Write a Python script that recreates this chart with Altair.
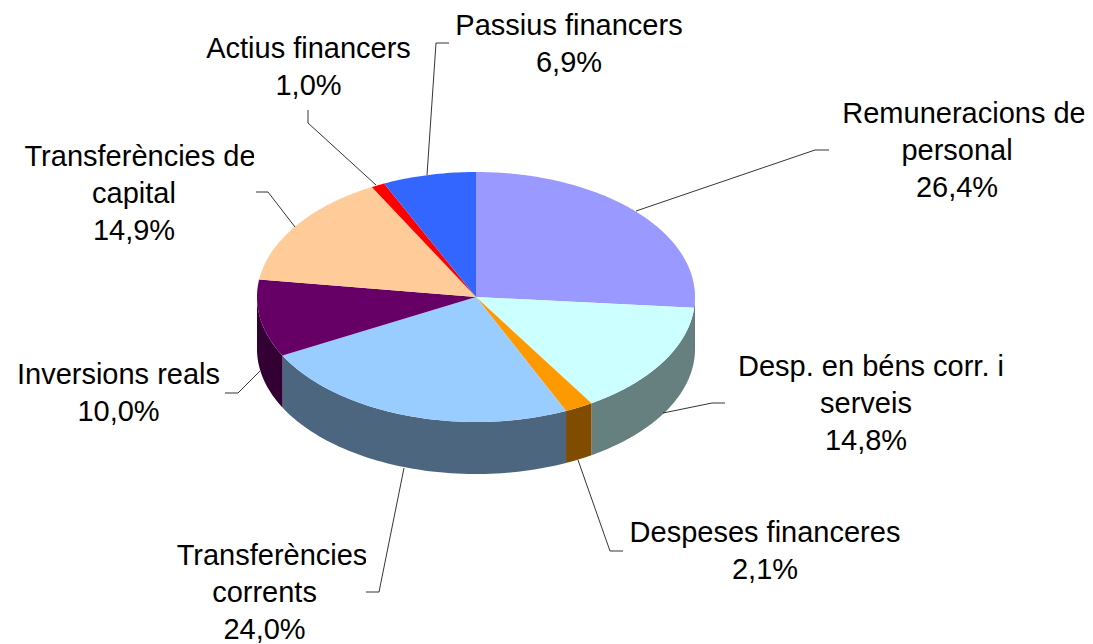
import numpy as np
import pandas as pd
import altair as alt

# --- values ---
names = ["Remuneracions de personal", "Desp. en béns corr. i serveis", "Despeses financeres",
         "Transferències corrents", "Inversions reals", "Transferències de capital",
         "Actius financers", "Passius financers"]
shares = [26.4, 14.8, 2.1, 24.0, 10.0, 14.9, 1.0, 6.9]
top_colors = ["#9999ff", "#ccffff", "#ff9900", "#99ccff", "#660066", "#ffcc99", "#ff0000", "#3366ff"]
side_colors = ["#4d4d80", "#668080", "#804d00", "#4d6680", "#330033", "#806650", "#800000", "#1a3380"]

label_lines = [
    ["Remuneracions de", "personal", "26,4%"],
    ["Desp. en béns corr. i", "serveis", "14,8%"],
    ["Despeses financeres", "2,1%"],
    ["Transferències", "corrents", "24,0%"],
    ["Inversions reals", "10,0%"],
    ["Transferències de", "capital", "14,9%"],
    ["Actius financers", "1,0%"],
    ["Passius financers", "6,9%"],
]
label_x = [
    [964, 957, 957],
    [871, 866, 866],
    [765, 765],
    [272, 264.5, 264.5],
    [118.5, 118.5],
    [140, 134, 134],
    [308.5, 308.5],
    [569, 569],
]
label_y = [123, 376, 542, 565, 384, 166, 58, 35]
line_gap = 37

leaders = [
    [(636, 211), (815, 150), (829, 150)],
    [(663, 413), (712, 403), (725, 403)],
    [(578, 460), (610, 551), (623, 551)],
    [(404, 468), (379, 592), (366, 592)],
    [(260, 371), (238, 393), (225, 393)],
    [(295, 227), (268, 192), (256, 192)],
    [(376, 185), (308, 123), (308, 110)],
    [(427, 175), (436, 43), (449, 43)],
]
# the source clips its label boxes at these right edges
clip_boxes = [(1084.5, 100, 1093, 130), (1004.5, 350, 1030, 385), (366, 535, 380, 575), (254, 140, 270, 175)]

CX, CY, RX, RY, DEPTH = 476, 297, 219, 125, 52
W, H = 1077, 636
FONT = "Liberation Sans"
FS = 29

x_scale = alt.Scale(domain=[8, 8 + W], range=[0, W])
y_scale = alt.Scale(domain=[8, 8 + H], range=[0, H])


def ell(theta, drop=0.0):
    return CX + RX * np.sin(theta), CY - RY * np.cos(theta) + drop


rows = []
edges = np.cumsum([0] + shares) / sum(shares) * 2 * np.pi
pid = 0
for i in range(len(shares)):
    a0, a1 = edges[i], edges[i + 1]
    # visible outer wall (front half only)
    s0, s1 = max(a0, np.pi / 2), min(a1, 3 * np.pi / 2)
    if s1 > s0:
        t = np.linspace(s0, s1, 60)
        xs = np.concatenate([ell(t)[0], ell(t[::-1], DEPTH)[0]])
        ys = np.concatenate([ell(t)[1], ell(t[::-1], DEPTH)[1]])
        for k, (px, py) in enumerate(zip(xs, ys)):
            rows.append(dict(pid=pid, k=k, px=px, py=py, col=side_colors[i]))
        pid += 1
for i in range(len(shares)):
    a0, a1 = edges[i], edges[i + 1]
    t = np.linspace(a0, a1, max(12, int(shares[i] * 4)))
    xs = np.concatenate([[CX], ell(t)[0]])
    ys = np.concatenate([[CY], ell(t)[1]])
    for k, (px, py) in enumerate(zip(xs, ys)):
        rows.append(dict(pid=pid, k=k, px=px, py=py, col=top_colors[i]))
    pid += 1

poly_df = pd.DataFrame(rows)
polys = alt.Chart(poly_df).mark_line(filled=True, interpolate="linear").encode(
    x=alt.X("px:Q", scale=x_scale, axis=None),
    y=alt.Y("py:Q", scale=y_scale, axis=None),
    detail="pid:N",
    order="k:Q",
    color=alt.Color("col:N", scale=None),
)

lead_df = pd.DataFrame(
    [dict(name=names[i], k=k, px=p[0], py=p[1]) for i, l in enumerate(leaders) for k, p in enumerate(l)]
)
lead = alt.Chart(lead_df).mark_line(color="#000000", strokeWidth=0.8).encode(
    x=alt.X("px:Q", scale=x_scale, axis=None),
    y=alt.Y("py:Q", scale=y_scale, axis=None),
    detail="name:N",
    order="k:Q",
)

text_df = pd.DataFrame(
    [dict(t=line, px=label_x[i][j], py=label_y[i] + j * line_gap)
     for i, lines in enumerate(label_lines) for j, line in enumerate(lines)]
)
texts = alt.Chart(text_df).mark_text(font=FONT, fontSize=FS, color="#000000", align="center", baseline="alphabetic").encode(
    x=alt.X("px:Q", scale=x_scale, axis=None),
    y=alt.Y("py:Q", scale=y_scale, axis=None),
    text="t:N",
)

clip_df = pd.DataFrame(clip_boxes, columns=["x0", "y0", "x1", "y1"])
clips = alt.Chart(clip_df).mark_rect(color="#ffffff").encode(
    x=alt.X("x0:Q", scale=x_scale, axis=None),
    x2="x1:Q",
    y=alt.Y("y0:Q", scale=y_scale, axis=None),
    y2="y1:Q",
)

chart = alt.layer(polys, texts, clips, lead).properties(
    width=W, height=H, padding=0, autosize=alt.AutoSizeParams(type="none"), background="#ffffff"
).configure_view(stroke=None)

chart.save("out.html", embed_options={"renderer": "svg", "actions": False})
